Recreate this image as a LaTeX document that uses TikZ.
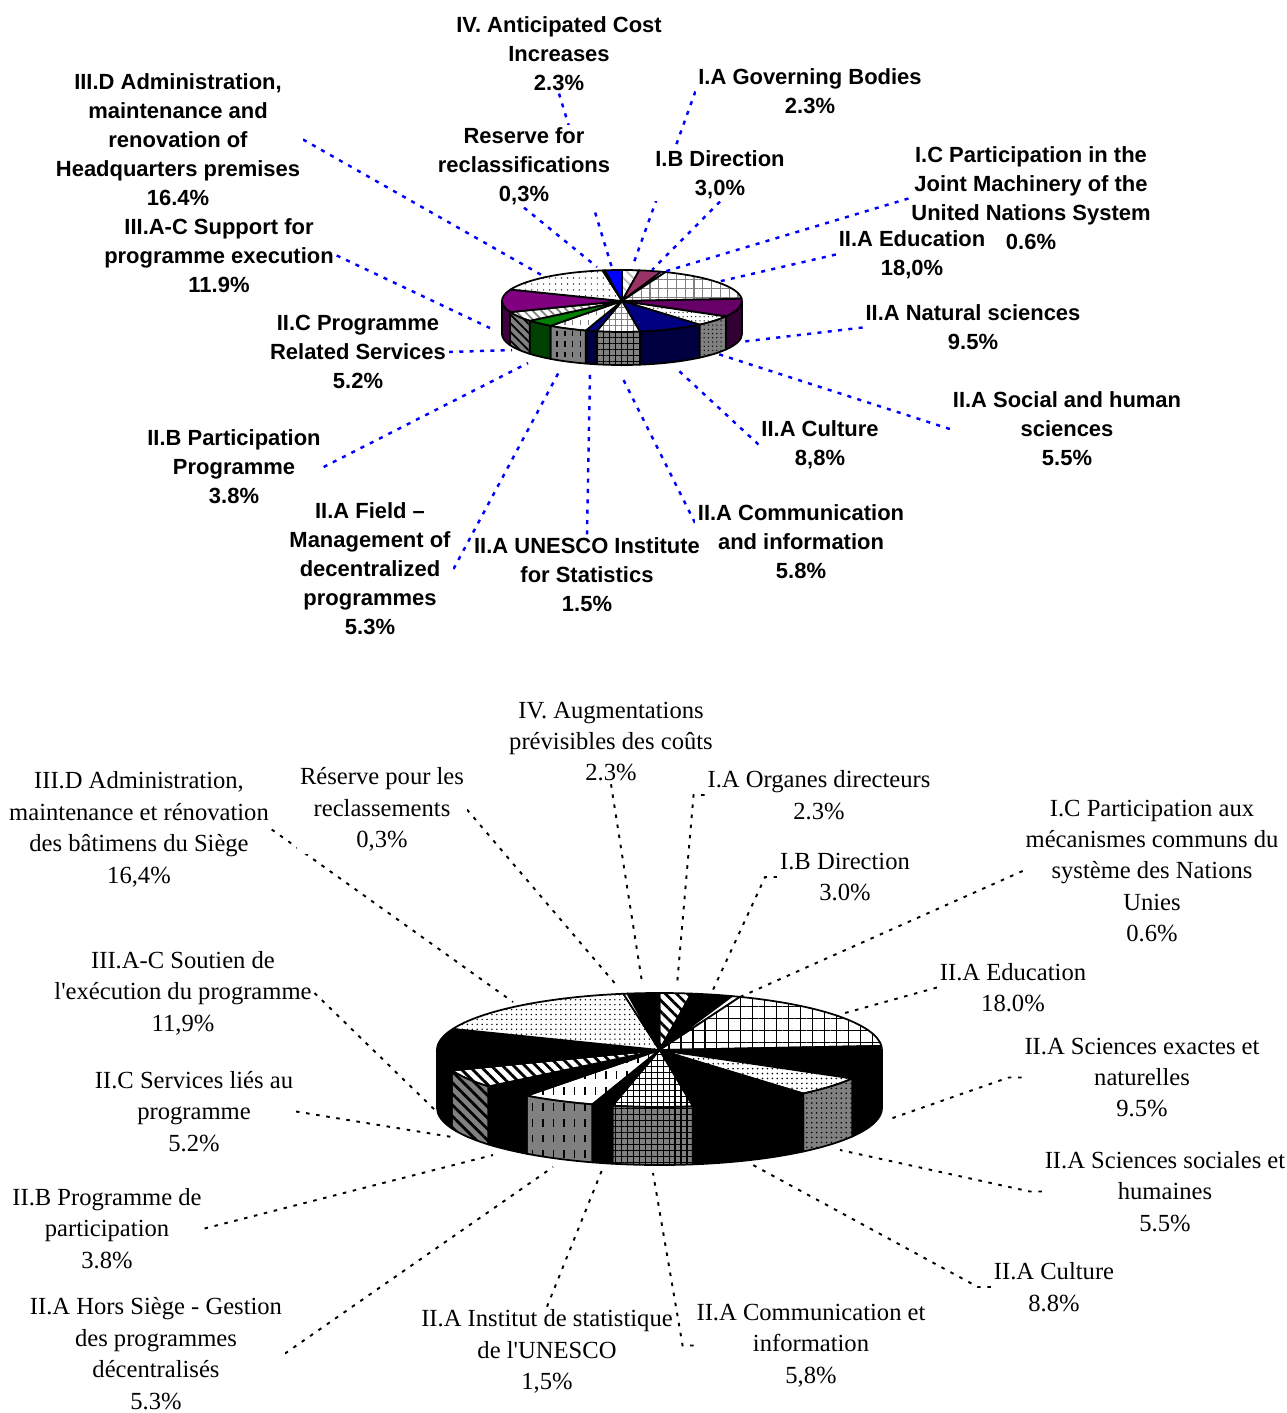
\documentclass[tikz,border=0pt]{standalone}
\usepackage{fontspec}
\setmainfont{Liberation Serif}
\setsansfont{Liberation Sans}
\usetikzlibrary{calc,patterns,patterns.meta,backgrounds}

\definecolor{tplum}{HTML}{993366}
\definecolor{tgrape}{HTML}{660066}
\definecolor{tnavy}{HTML}{000080}
\definecolor{tleaf}{HTML}{008000}
\definecolor{tviolet}{HTML}{800080}

\newcommand\toplabfont{\sffamily\bfseries\fontsize{12.5}{16.5}\selectfont}
\newcommand\botlabfont{\rmfamily\fontsize{14}{17.9}\selectfont}

% short vertical dashes
\pgfdeclarepatternformonly{vdashS}{\pgfqpoint{-1pt}{-1pt}}{\pgfqpoint{5pt}{7pt}}{\pgfqpoint{4.5pt}{6pt}}{%
  \pgfsetlinewidth{0.8pt}%
  \pgfpathmoveto{\pgfqpoint{2pt}{1pt}}\pgfpathlineto{\pgfqpoint{2pt}{4pt}}%
  \pgfusepath{stroke}}
\pgfdeclarepatternformonly{vdashL}{\pgfqpoint{-1pt}{-1pt}}{\pgfqpoint{7pt}{10pt}}{\pgfqpoint{6pt}{9pt}}{%
  \pgfsetlinewidth{0.9pt}%
  \pgfpathmoveto{\pgfqpoint{3pt}{1pt}}\pgfpathlineto{\pgfqpoint{3pt}{5.5pt}}%
  \pgfusepath{stroke}}

\begin{document}
\begin{tikzpicture}[x=0.02cm, y=-0.02cm,
    slice/.style={draw=black, line width=1pt, line join=round},
    tlead/.style={draw=blue, line width=1.4pt, dash pattern=on 2.3pt off 3.6pt},
    blead/.style={draw=black, line width=1.1pt, dash pattern=on 2pt off 3.8pt},
    tlab/.style={font=\toplabfont, align=center, fill=white, inner sep=1.5pt},
    blab/.style={font=\botlabfont, align=center, fill=white, inner sep=1.5pt},
    onwhite/.style={preaction={fill=white}, pattern={#1}},
    ongray/.style={preaction={fill=gray}, pattern={#1}, pattern color=black},
    % upper chart, tops
    tA/.style={onwhite={Lines[angle=-45,distance=4pt,line width=1.2pt]}, pattern color=gray!50},
    tB/.style={fill=tplum},
    tC/.style={fill=white},
    tEdu/.style={onwhite={Hatch[distance=5pt,line width=0.7pt]}, pattern color=gray},
    tNat/.style={fill=tgrape},
    tSoc/.style={onwhite={Dots[distance=2.4pt,radius=0.4pt]}, pattern color=gray!40!black},
    tCul/.style={fill=tnavy},
    tCom/.style={onwhite={Hatch[distance=3.4pt,line width=0.6pt]}, pattern color=gray},
    tUIS/.style={fill=tnavy},
    tField/.style={onwhite=vdashS, pattern color=gray},
    tIIB/.style={fill=tleaf},
    tIIC/.style={onwhite={Lines[angle=-45,distance=3.5pt,line width=1pt]}, pattern color=gray},
    tIIIAC/.style={fill=tviolet},
    tIIID/.style={onwhite={Dots[distance=3.4pt,radius=0.45pt]}, pattern color=gray!40!black},
    tRes/.style={fill=white},
    tIV/.style={fill=blue},
    % upper chart, sides
    uNat/.style={fill=tgrape!50!black},
    uSoc/.style={ongray={Dots[distance=2.4pt,radius=0.4pt]}},
    uCul/.style={fill=tnavy!50!black},
    uCom/.style={ongray={Hatch[distance=3.4pt,line width=0.6pt]}},
    uField/.style={ongray=vdashS},
    uIIB/.style={fill=tleaf!50!black},
    uIIC/.style={ongray={Lines[angle=-45,distance=3.5pt,line width=1pt]}},
    uIIIAC/.style={fill=tviolet!50!black},
    % lower chart
    bBlk/.style={fill=black},
    bA/.style={onwhite={Lines[angle=-45,distance=4.5pt,line width=1.6pt]}, pattern color=black},
    bEdu/.style={onwhite={Hatch[distance=6.8pt,line width=0.7pt]}, pattern color=black},
    bSoc/.style={onwhite={Dots[distance=2.8pt,radius=0.5pt]}, pattern color=black},
    bCom/.style={onwhite={Hatch[distance=3.4pt,line width=0.6pt]}, pattern color=black},
    bField/.style={onwhite=vdashL, pattern color=black},
    bIIC/.style={onwhite={Lines[angle=-45,distance=4.5pt,line width=1.6pt]}, pattern color=black},
    bIIID/.style={onwhite={Dots[distance=2.8pt,radius=0.45pt]}, pattern color=black},
    bRes/.style={fill=white},
    vSoc/.style={ongray={Dots[distance=2.8pt,radius=0.5pt]}},
    vCom/.style={ongray={Hatch[distance=3.4pt,line width=0.6pt]}},
    vField/.style={ongray=vdashL},
    vIIC/.style={ongray={Lines[angle=-45,distance=4.5pt,line width=1.6pt]}}]

  \useasboundingbox (0,0) rectangle (1287,1413);

  \coordinate (tc) at (622,301);
  \coordinate (bc) at (659.5,1050);

  % upper chart labels
  \node[tlab] (tlIV)    at (559,53.5)  {IV. Anticipated Cost\\Increases\\2.3\%};
  \node[tlab] (tlIA)    at (810,91.5)  {I.A Governing Bodies\\2.3\%};
  \node[tlab] (tlIIID)  at (178,139.5) {III.D Administration,\\maintenance and\\renovation of\\Headquarters premises\\16.4\%};
  \node[tlab] (tlRes)   at (524,166)   {Reserve for\\reclassifications\\0,3\%};
  \node[tlab] (tlIB)    at (720,174.5) {I.B Direction\\3,0\%};
  \node[tlab] (tlIC)    at (1031,198.5) {I.C Participation in the\\Joint Machinery of the\\United Nations System\\0.6\%};
  \node[tlab] (tlEdu)   at (912,254.5) {II.A Education\\18,0\%};
  \node[tlab] (tlIIIAC) at (219,255.5) {III.A-C Support for\\programme execution\\11.9\%};
  \node[tlab] (tlNat)   at (973,327.5) {II.A Natural sciences\\9.5\%};
  \node[tlab] (tlIIC)   at (358,352)   {II.C Programme\\Related Services\\5.2\%};
  \node[tlab] (tlSoc)   at (1067,429)  {II.A Social and human\\sciences\\5.5\%};
  \node[tlab] (tlCul)   at (820,444.5) {II.A Culture\\8,8\%};
  \node[tlab] (tlIIB)   at (234,467)   {II.B Participation\\Programme\\3.8\%};
  \node[tlab] (tlField) at (370,569)   {II.A Field –\\Management of\\decentralized\\programmes\\5.3\%};
  \node[tlab] (tlCom)   at (801,541.5) {II.A Communication\\and information\\5.8\%};
  \node[tlab] (tlUIS)   at (587,574.5) {II.A UNESCO Institute\\for Statistics\\1.5\%};

  % lower chart labels
  \node[blab] (blIV)    at (611,741.5)  {IV. Augmentations\\prévisibles des coûts\\2.3\%};
  \node[blab] (blIA)    at (819,795)    {I.A Organes directeurs\\2.3\%};
  \node[blab] (blIIID)  at (139,829.5)  {III.D Administration,\\maintenance et rénovation\\des bâtimens du Siège\\16,4\%};
  \node[blab] (blRes)   at (382,809.5)  {Réserve pour les\\reclassements\\0,3\%};
  \node[blab] (blIB)    at (845,877)    {I.B Direction\\3.0\%};
  \node[blab] (blIC)    at (1152,871)   {I.C Participation aux\\mécanismes communs du\\système des Nations\\Unies\\0.6\%};
  \node[blab] (blEdu)   at (1013,987.5) {II.A Education\\18.0\%};
  \node[blab] (blIIIAC) at (183,993)    {III.A-C Soutien de\\l\textquotesingle exécution du programme\\11,9\%};
  \node[blab] (blNat)   at (1142,1077.5) {II.A Sciences exactes et\\naturelles\\9.5\%};
  \node[blab] (blIIC)   at (194,1111.5) {II.C Services liés au\\programme\\5.2\%};
  \node[blab] (blSoc)   at (1165,1191.5) {II.A Sciences sociales et\\humaines\\5.5\%};
  \node[blab] (blIIB)   at (107,1228.5) {II.B Programme de\\participation\\3.8\%};
  \node[blab] (blCul)   at (1054,1287)  {II.A Culture\\8.8\%};
  \node[blab] (blField) at (156,1353.5) {II.A Hors Siège - Gestion\\des programmes\\décentralisés\\5.3\%};
  \node[blab] (blUIS)   at (547,1351.5) {II.A Institut de statistique\\de l\textquotesingle UNESCO\\1,5\%};
  \node[blab] (blCom)   at (811,1345.5) {II.A Communication et\\information\\5,8\%};

  \begin{scope}[on background layer]
    % upper pie
    \foreach \a/\b/\s in {-90/-81.74/tA, -81.74/-70.96/tB, -70.96/-68.8/tC, -68.8/-4.13/tEdu,
        -4.13/30/tNat, 30/49.76/tSoc, 49.76/81.38/tCul, 81.38/102.22/tCom, 102.22/107.6/tUIS,
        107.6/126.65/tField, 126.65/140.3/tIIB, 140.3/158.98/tIIC, 158.98/201.74/tIIIAC,
        201.74/260.66/tIIID, 260.66/261.74/tRes, 261.74/270/tIV}
      \filldraw[slice,\s] (tc) -- ++(\a:120 and 31) arc[start angle=\a, end angle=\b, x radius=120, y radius=31] -- cycle;
    \foreach \a/\b/\s in {0/30/uNat, 30/49.76/uSoc, 49.76/81.38/uCul, 81.38/102.22/uCom,
        102.22/107.6/uCul, 107.6/126.65/uField, 126.65/140.3/uIIB, 140.3/158.98/uIIC, 158.98/180/uIIIAC}
      \filldraw[slice,\s] ($(tc)+(\a:120 and 31)$) arc[start angle=\a, end angle=\b, x radius=120, y radius=31]
        -- ++(0,33) arc[start angle=\b, end angle=\a, x radius=120, y radius=31] -- cycle;

    % lower pie
    \foreach \a/\b/\s in {-90/-81.74/bA, -81.74/-70.96/bBlk, -70.96/-68.8/bRes, -68.8/-4.13/bEdu,
        -4.13/30/bBlk, 30/49.76/bSoc, 49.76/81.38/bBlk, 81.38/102.22/bCom, 102.22/107.6/bBlk,
        107.6/126.65/bField, 126.65/140.3/bBlk, 140.3/158.98/bIIC, 158.98/201.74/bBlk,
        201.74/260.66/bIIID, 260.66/261.74/bRes, 261.74/270/bBlk}
      \filldraw[slice,\s] (bc) -- ++(\a:222.5 and 57) arc[start angle=\a, end angle=\b, x radius=222.5, y radius=57] -- cycle;
    \foreach \a/\b/\s in {0/30/bBlk, 30/49.76/vSoc, 49.76/81.38/bBlk, 81.38/102.22/vCom,
        102.22/107.6/bBlk, 107.6/126.65/vField, 126.65/140.3/bBlk, 140.3/158.98/vIIC, 158.98/180/bBlk}
      \filldraw[slice,\s] ($(bc)+(\a:222.5 and 57)$) arc[start angle=\a, end angle=\b, x radius=222.5, y radius=57]
        -- ++(0,58) arc[start angle=\b, end angle=\a, x radius=222.5, y radius=57] -- cycle;

    % ends of the upper leaders
    \coordinate (tpIIID) at (545,277);  \coordinate (tpIV) at (612,268);   \coordinate (tpRes) at (597,267);
    \coordinate (tpIA) at (633,265);    \coordinate (tpIB) at (652,270);   \coordinate (tpIC) at (660,273);
    \coordinate (tpEdu) at (717,282);   \coordinate (tpNat) at (740,342);  \coordinate (tpSoc) at (715,353);
    \coordinate (tpCul) at (678,370);   \coordinate (tpCom) at (622,377);  \coordinate (tpUIS) at (590,373);
    \coordinate (tpField) at (560,370); \coordinate (tpIIB) at (528,363);  \coordinate (tpIIC) at (512,350);
    \coordinate (tpIIIAC) at (490,328);

    \draw[tlead] (tlIIID.east) -- (tpIIID);
    \draw[tlead] (tlIV.south) -- (tpIV);
    \draw[tlead] (tlRes.south) -- (tpRes);
    \draw[tlead] (tlIA.west) -- (tpIA);
    \draw[tlead] (tlIB.south) -- (tpIB);
    \draw[tlead] (tlIC.west) -- (tpIC);
    \draw[tlead] (tlEdu.west) -- (tpEdu);
    \draw[tlead] (tlIIIAC.east) -- (tpIIIAC);
    \draw[tlead] (tlNat.west) -- (tpNat);
    \draw[tlead] (tlIIC.east) -- (tpIIC);
    \draw[tlead] (tlSoc.west) -- (tpSoc);
    \draw[tlead] (tlCul.west) -- (tpCul);
    \draw[tlead] (tlIIB.east) -- (tpIIB);
    \draw[tlead] (tlField.east) -- (tpField);
    \draw[tlead] (tlUIS.north) -- (tpUIS);
    \draw[tlead] (tlCom.170) -- (tpCom);

    % ends of the lower leaders
    \coordinate (bpIIID) at (513,1002); \coordinate (bpRes) at (618,987);  \coordinate (bpIV) at (642,982);
    \coordinate (bpIA) at (677,985);    \coordinate (bpIB) at (712,992);   \coordinate (bpIC) at (740,997);
    \coordinate (bpEdu) at (845,1013);  \coordinate (bpNat) at (887,1120); \coordinate (bpSoc) at (840,1150);
    \coordinate (bpCul) at (753,1165);  \coordinate (bpCom) at (653,1173); \coordinate (bpUIS) at (602,1170);
    \coordinate (bpField) at (553,1167); \coordinate (bpIIB) at (493,1155); \coordinate (bpIIC) at (452,1137);
    \coordinate (bpIIIAC) at (437,1112);

    \draw[blead] (blIIID.east) -- (bpIIID);
    \draw[blead] (blRes.east) -- (bpRes);
    \draw[blead] (blIV.south) -- (bpIV);
    \draw[blead] (blIA.west) -- ++(-11,0) -- (bpIA);
    \draw[blead] (blIB.west) -- ++(-12,0) -- (bpIB);
    \draw[blead] (blIC.west) -- (bpIC);
    \draw[blead] (blEdu.west) -- (bpEdu);
    \draw[blead] (blIIIAC.east) -- (bpIIIAC);
    \draw[blead] (blIIC.east) -- (bpIIC);
    \draw[blead] (blIIB.east) -- (bpIIB);
    \draw[blead] (blField.east) -- (bpField);
    \draw[blead] (blUIS.north) -- (bpUIS);
    \draw[blead] (blCom.west) -- ++(-11,0) -- (bpCom);
    \draw[blead] (blCul.west) -- ++(-13,0) -- (bpCul);
    \draw[blead] (blSoc.west) -- ++(-12,0) -- (bpSoc);
    \draw[blead] (blNat.west) -- ++(-13,0) -- (bpNat);
  \end{scope}

\end{tikzpicture}
\end{document}
